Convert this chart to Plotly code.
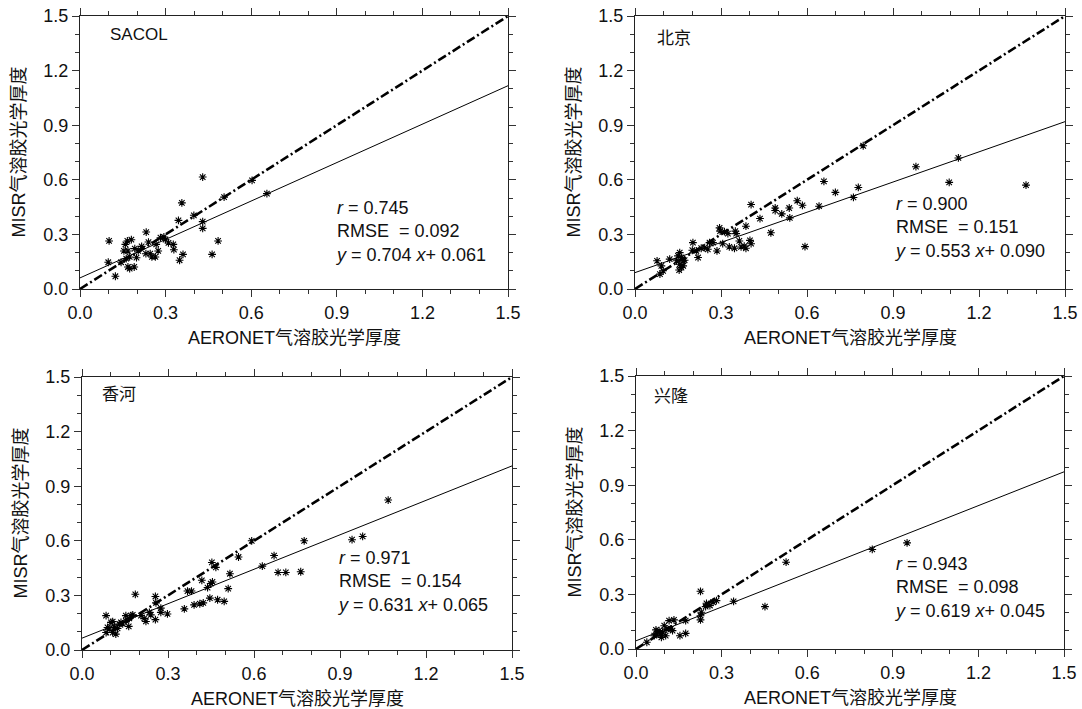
import plotly.graph_objects as go

W, H = 1082, 709

# ---------------- data ----------------
stations = ["SACOL", "北京", "香河", "兴隆"]

sacol_x = [0.102, 0.099, 0.124, 0.144, 0.159, 0.166, 0.180, 0.154, 0.168, 0.162, 0.174, 0.168, 0.174,
           0.190, 0.198, 0.192, 0.204, 0.216, 0.232, 0.240, 0.246, 0.231, 0.252, 0.264, 0.267, 0.274,
           0.282, 0.294, 0.300, 0.310, 0.327, 0.329, 0.345, 0.357, 0.349, 0.361, 0.399, 0.430, 0.430,
           0.430, 0.463, 0.484, 0.603, 0.655, 0.505]
sacol_y = [0.264, 0.147, 0.070, 0.147, 0.245, 0.264, 0.271, 0.209, 0.209, 0.167, 0.176, 0.121, 0.112,
           0.121, 0.172, 0.222, 0.209, 0.234, 0.313, 0.258, 0.194, 0.194, 0.176, 0.176, 0.245, 0.209,
           0.282, 0.286, 0.271, 0.253, 0.245, 0.216, 0.377, 0.473, 0.158, 0.190, 0.405, 0.370, 0.333,
           0.615, 0.190, 0.264, 0.597, 0.524, 0.505]

beijing_x = [0.077, 0.092, 0.087, 0.098, 0.121, 0.145, 0.150, 0.156, 0.162, 0.168, 0.156, 0.162, 0.154,
             0.168, 0.173, 0.202, 0.200, 0.214, 0.220, 0.231, 0.243, 0.254, 0.260, 0.272, 0.286, 0.295,
             0.297, 0.312, 0.324, 0.350, 0.353, 0.306, 0.329, 0.347, 0.364, 0.370, 0.381, 0.387, 0.387,
             0.401, 0.405, 0.405, 0.436, 0.474, 0.489, 0.489, 0.512, 0.538, 0.540, 0.566, 0.584, 0.593,
             0.642, 0.659, 0.699, 0.762, 0.779, 0.796, 0.980, 1.096, 1.128, 1.364]
beijing_y = [0.155, 0.127, 0.082, 0.100, 0.164, 0.155, 0.182, 0.200, 0.173, 0.155, 0.136, 0.118, 0.104,
             0.127, 0.158, 0.255, 0.213, 0.209, 0.173, 0.224, 0.227, 0.218, 0.255, 0.255, 0.209, 0.336,
             0.318, 0.315, 0.304, 0.318, 0.304, 0.249, 0.231, 0.224, 0.264, 0.231, 0.236, 0.224, 0.345,
             0.267, 0.249, 0.464, 0.387, 0.309, 0.445, 0.431, 0.413, 0.445, 0.391, 0.485, 0.460, 0.233,
             0.455, 0.591, 0.531, 0.503, 0.558, 0.787, 0.672, 0.586, 0.720, 0.571]

xianghe_x = [0.084, 0.084, 0.089, 0.095, 0.101, 0.107, 0.107, 0.113, 0.118, 0.124, 0.130, 0.136, 0.142,
             0.153, 0.153, 0.163, 0.165, 0.171, 0.177, 0.186, 0.206, 0.217, 0.223, 0.235, 0.240, 0.256,
             0.256, 0.258, 0.275, 0.275, 0.298, 0.357, 0.368, 0.382, 0.391, 0.411, 0.423, 0.418, 0.438,
             0.446, 0.449, 0.455, 0.453, 0.467, 0.473, 0.496, 0.510, 0.516, 0.546, 0.592, 0.629, 0.670,
             0.684, 0.711, 0.763, 0.775, 0.942, 0.979, 1.068]
xianghe_y = [0.189, 0.096, 0.124, 0.115, 0.152, 0.156, 0.096, 0.124, 0.087, 0.119, 0.143, 0.152, 0.143,
             0.161, 0.189, 0.130, 0.174, 0.189, 0.193, 0.306, 0.189, 0.174, 0.157, 0.207, 0.193, 0.294,
             0.167, 0.259, 0.230, 0.207, 0.198, 0.226, 0.324, 0.324, 0.248, 0.254, 0.259, 0.383, 0.343,
             0.285, 0.365, 0.374, 0.481, 0.454, 0.276, 0.267, 0.337, 0.419, 0.511, 0.600, 0.461, 0.519,
             0.426, 0.426, 0.430, 0.600, 0.606, 0.624, 0.824]

xinglong_x = [0.038, 0.064, 0.070, 0.073, 0.081, 0.087, 0.089, 0.093, 0.099, 0.104, 0.108, 0.116, 0.122,
              0.133, 0.128, 0.154, 0.174, 0.174, 0.226, 0.226, 0.226, 0.229, 0.244, 0.247, 0.259, 0.270,
              0.282, 0.342, 0.452, 0.526, 0.828, 0.950]
xinglong_y = [0.037, 0.073, 0.105, 0.083, 0.101, 0.083, 0.064, 0.092, 0.128, 0.073, 0.110, 0.156, 0.110,
              0.160, 0.101, 0.073, 0.086, 0.156, 0.317, 0.183, 0.160, 0.202, 0.233, 0.251, 0.239, 0.257,
              0.266, 0.262, 0.233, 0.477, 0.547, 0.583]

r_values = [0.745, 0.900, 0.971, 0.943]
rmse_values = [0.092, 0.151, 0.154, 0.098]
slopes = [0.704, 0.553, 0.631, 0.619]
intercepts = [0.061, 0.090, 0.065, 0.045]

tick_vals = [0.0, 0.3, 0.6, 0.9, 1.2, 1.5]
tick_text = ["0.0", "0.3", "0.6", "0.9", "1.2", "1.5"]
x_title = "AERONET气溶胶光学厚度"
y_title = "MISR气溶胶光学厚度"

# ---------------- layout (pixel boxes) ----------------
xs_data = [sacol_x, beijing_x, xianghe_x, xinglong_x]
ys_data = [sacol_y, beijing_y, xianghe_y, xinglong_y]
# (left, right, top, bottom) in pixels
boxes = [(80, 508, 16, 289), (635, 1065, 16, 289), (82, 512, 377, 650), (636, 1064, 376, 649)]
stat_pos = [(0.888, 0.51), (0.897, 0.533), (0.883, 0.571), (0.897, 0.533)]
label_pos = [(108, 34), (655, 38), (100, 394), (652, 396)]

FONT = "Liberation Sans, Arial, Noto Sans CJK SC, sans-serif"
fig = go.Figure()
annotations = []

for i in range(4):
    l, r, t, b = boxes[i]
    sfx = "" if i == 0 else str(i + 1)
    xa, ya = "x" + sfx, "y" + sfx
    xdom = [l / W, r / W]
    ydom = [(H - b) / H, (H - t) / H]
    axcommon = dict(
        range=[0, 1.5], tickmode="array", tickvals=tick_vals, ticktext=tick_text,
        ticks="outside", ticklen=7, tickwidth=1, tickcolor="#333",
        minor=dict(dtick=0.1, tick0=0, ticks="outside", ticklen=4, tickwidth=1, tickcolor="#333"),
        showline=True, linecolor="#222", linewidth=1.2, mirror="allticks",
        showgrid=False, zeroline=False, automargin=False,
        tickfont=dict(family=FONT, size=18, color="#111"),
    )
    fig.layout["xaxis" + sfx] = dict(domain=xdom, anchor=ya, **axcommon)
    fig.layout["yaxis" + sfx] = dict(domain=ydom, anchor=xa, **axcommon)

    # 1:1 line
    fig.add_trace(go.Scatter(x=[0, 1.5], y=[0, 1.5], mode="lines", xaxis=xa, yaxis=ya,
                             line=dict(color="black", width=2.6, dash="9px,3px,2px,3px"),
                             showlegend=False, hoverinfo="skip"))
    # fit line
    fx = [0, 1.5]
    fy = [slopes[i] * v + intercepts[i] for v in fx]
    fig.add_trace(go.Scatter(x=fx, y=fy, mode="lines", xaxis=xa, yaxis=ya,
                             line=dict(color="black", width=1), showlegend=False, hoverinfo="skip"))
    # points
    fig.add_trace(go.Scatter(x=xs_data[i], y=ys_data[i], mode="markers", xaxis=xa, yaxis=ya,
                             marker=dict(symbol="asterisk", size=6.5, color="black",
                                         line=dict(color="black", width=1.1)),
                             showlegend=False, cliponaxis=False))

    # stats text
    sx, sy = stat_pos[i]
    txt = (f"<i>r</i> = {r_values[i]:.3f}<br>RMSE&nbsp;&nbsp;= {rmse_values[i]:.3f}"
           f"<br><i>y</i> = {slopes[i]:.3f} <i>x</i>+ {intercepts[i]:.3f}")
    annotations.append(dict(x=sx, y=sy, xref=xa, yref=ya, text=txt, showarrow=False,
                            xanchor="left", yanchor="top", align="left",
                            font=dict(family=FONT, size=18, color="#111")))
    # station label
    lx, ly = label_pos[i]
    annotations.append(dict(x=lx / W, y=(H - ly) / H, xref="paper", yref="paper", text=stations[i],
                            showarrow=False, xanchor="left", yanchor="middle",
                            font=dict(family=FONT, size=17, color="#111")))
    # axis titles
    annotations.append(dict(x=(l + r) / 2 / W, y=(H - (b + 49)) / H, xref="paper", yref="paper",
                            text=x_title, showarrow=False, xanchor="center", yanchor="middle",
                            font=dict(family=FONT, size=18, color="#111")))
    annotations.append(dict(x=(l - 62) / W, y=(H - (t + b) / 2) / H, xref="paper", yref="paper",
                            text=y_title, showarrow=False, xanchor="center", yanchor="middle",
                            textangle=-90, font=dict(family=FONT, size=18, color="#111")))

fig.update_layout(width=W, height=H, margin=dict(l=0, r=0, t=0, b=0, autoexpand=False),
                  paper_bgcolor="white", plot_bgcolor="white", annotations=annotations,
                  font=dict(family=FONT), hovermode=False)
fig.write_html("out.html", config={"displayModeBar": False, "staticPlot": True},
               post_script="document.body.style.margin='0';document.body.style.overflow='hidden';")
